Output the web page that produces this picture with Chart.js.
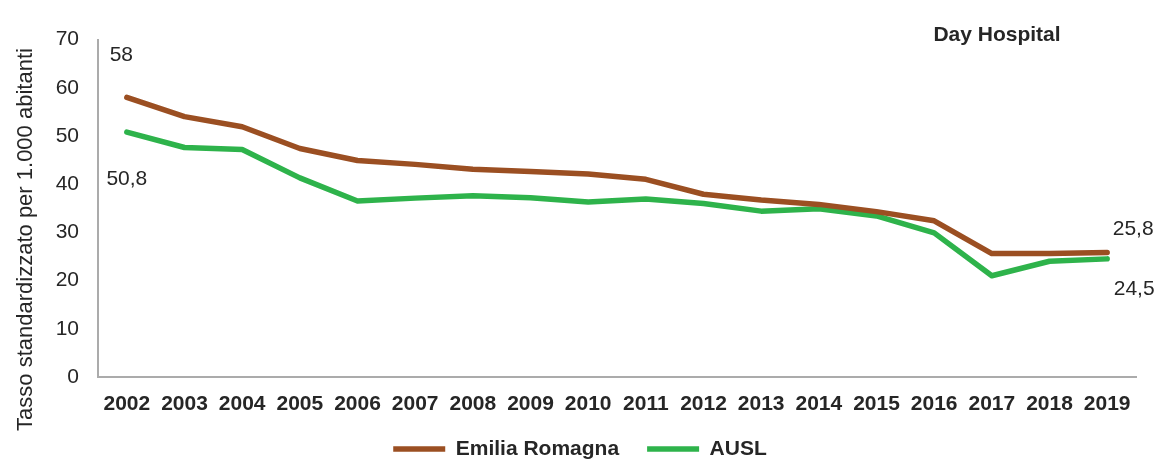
<!DOCTYPE html>
<html>
<head>
<meta charset="utf-8">
<script src="https://cdn.jsdelivr.net/npm/chart.js@4.4.1/dist/chart.umd.min.js"></script>
<style>
html,body{margin:0;padding:0;background:#fff;}
#wrap{width:1157px;height:461px;position:relative;}
</style>
</head>
<body>
<div id="wrap"><canvas id="c" width="1157" height="461"></canvas></div>
<script>
const years = ['2002','2003','2004','2005','2006','2007','2008','2009','2010','2011','2012','2013','2014','2015','2016','2017','2018','2019'];
const emiliaRomagna = [58, 54.0, 51.9, 47.4, 44.9, 44.1, 43.1, 42.6, 42.1, 41.0, 37.9, 36.7, 35.8, 34.3, 32.4, 25.6, 25.6, 25.8];
const ausl = [50.8, 47.6, 47.2, 41.3, 36.5, 37.1, 37.6, 37.2, 36.3, 36.9, 36.0, 34.4, 34.9, 33.4, 29.9, 21.0, 24.0, 24.5];
const yTicks = [0, 10, 20, 30, 40, 50, 60, 70];
const chartTitle = 'Day Hospital';
const yTitle = 'Tasso standardizzato per 1.000 abitanti';

const FONT = '"Liberation Sans", Arial, sans-serif';
const BROWN = '#9b4f22';
const GREEN = '#2eb34b';
const TEXT = '#262626';

const fmt = v => String(v).replace('.', ',');

const labelPlugin = {
  id: 'endLabels',
  afterLayout(chart) {
    if (chart.legend) { chart.legend.left += 24; }
  },
  afterDatasetsDraw(chart) {
    const ctx = chart.ctx;
    const x = chart.scales.x, y = chart.scales.y;
    ctx.save();
    ctx.font = '21px ' + FONT;
    ctx.fillStyle = TEXT;
    ctx.textBaseline = 'middle';
    ctx.textAlign = 'center';
    const n = years.length - 1;
    ctx.fillText(fmt(emiliaRomagna[0]), x.getPixelForValue(0) - 5.5, y.getPixelForValue(emiliaRomagna[0]) - 42);
    ctx.fillText(fmt(ausl[0]), x.getPixelForValue(0) + 0, y.getPixelForValue(ausl[0]) + 47.5);
    ctx.fillText(fmt(emiliaRomagna[n]), x.getPixelForValue(n) + 26, y.getPixelForValue(emiliaRomagna[n]) - 23.5);
    ctx.fillText(fmt(ausl[n]), x.getPixelForValue(n) + 27, y.getPixelForValue(ausl[n]) + 30);
    ctx.font = 'bold 21px ' + FONT;
    ctx.fillText(chartTitle, 997, 35.5);
    // y axis title
    ctx.font = '22px ' + FONT;
    ctx.textBaseline = 'alphabetic';
    ctx.translate(31.5, 239.5);
    ctx.rotate(-Math.PI / 2);
    ctx.fillText(yTitle, 0, 0);
    ctx.restore();
  }
};

new Chart(document.getElementById('c'), {
  type: 'line',
  data: {
    labels: years,
    datasets: [
      { label: 'Emilia Romagna', data: emiliaRomagna, borderColor: BROWN, backgroundColor: BROWN, borderWidth: 5.5, pointRadius: 0, tension: 0, borderCapStyle: 'round', borderJoinStyle: 'round' },
      { label: 'AUSL', data: ausl, borderColor: GREEN, backgroundColor: GREEN, borderWidth: 5.5, pointRadius: 0, tension: 0, borderCapStyle: 'round', borderJoinStyle: 'round' }
    ]
  },
  options: {
    responsive: false,
    animation: false,
    events: [],
    layout: { padding: { top: 39.5, right: 21, left: 0, bottom: -8.5 } },
    plugins: {
      legend: {
        position: 'bottom',
        labels: {
          usePointStyle: true,
          pointStyle: 'line',
          pointStyleWidth: 52,
          padding: 28,
          color: TEXT,
          font: { family: FONT, size: 21, weight: 'bold' }
        }
      },
      tooltip: { enabled: false }
    },
    scales: {
      x: {
        offset: true,
        grid: { display: false },
        border: { display: true, color: '#ababab', width: 2 },
        ticks: { color: TEXT, padding: 7, maxRotation: 0, autoSkip: false, font: { family: FONT, size: 21, weight: 'bold' } },
        afterFit(s) { s.height = 33.5; }
      },
      y: {
        min: 0, max: 70,
        afterBuildTicks(s) { s.ticks = yTicks.map(v => ({ value: v })); },
        grid: { display: false },
        border: { display: true, color: '#ababab', width: 2 },
        ticks: { color: TEXT, padding: 11, font: { family: FONT, size: 21 } },
        title: { display: false },
        afterFit(s) { s.width = 98; }
      }
    }
  },
  plugins: [labelPlugin]
});
</script>
</body>
</html>
